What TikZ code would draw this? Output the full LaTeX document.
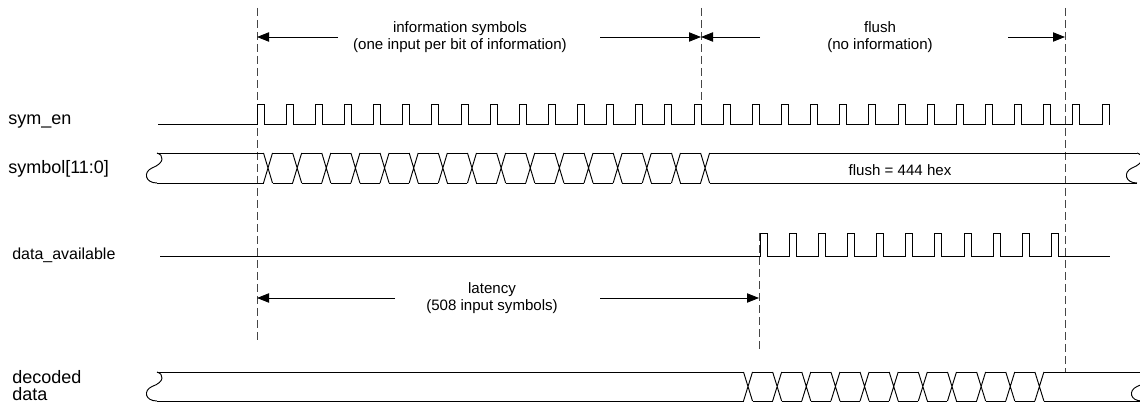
\documentclass[tikz,border=0pt]{standalone}
\usepackage{fontspec}
\setmainfont{Liberation Sans}
\usetikzlibrary{arrows.meta}
\definecolor{GuideGray}{RGB}{70,70,70}

\begin{document}
\begin{tikzpicture}[x=0.75pt,y=-0.75pt,
  wave/.style={line width=0.7pt,black},
  guide/.style={line width=0.6pt,GuideGray,dash pattern=on 6pt off 3pt},
  dimarrow/.style={line width=0.6pt,-{Triangle[length=9pt,width=7pt]}},
  sig/.style={anchor=base west,inner sep=0pt,font=\fontsize{13.5}{14}\selectfont},
  note/.style={align=center,inner sep=0pt,font=\fontsize{11.3}{12.75}\selectfont}]
  \useasboundingbox (0,0) rectangle (1140,406);

  \coordinate (g1top) at (257,8);   \coordinate (g1bot) at (257,343);
  \coordinate (g2top) at (701,8);   \coordinate (g2bot) at (701,104);
  \coordinate (g3top) at (1065,8);  \coordinate (g3bot) at (1065,372);
  \coordinate (g4top) at (759,233); \coordinate (g4bot) at (759,350);
  \draw[guide] (g1top) -- (g1bot);
  \draw[guide] (g2top) -- (g2bot);
  \draw[guide] (g3top) -- (g3bot);
  \draw[guide] (g4top) -- (g4bot);

  \node[sig] (lblSymEn) at (8,125) {sym\_en};
  \node[sig] (lblSymbol) at (8,174) {symbol[11:0]};
  \node[sig,font=\fontsize{12}{13}\selectfont] (lblAvail) at (12,260) {data\_available};
  \node[sig] (lblDecoded) at (12,383) {decoded};
  \node[sig] (lblData) at (12,400) {data};

  \node[note] (infoTxt) at (460,37) {information symbols\\(one input per bit of information)};
  \node[note] (flushTxt) at (880,37) {flush\\(no information)};
  \node[note] (latTxt) at (492,298) {latency\\(508 input symbols)};
  \node[note,anchor=base] (flushVal) at (900,176) {flush = 444 hex};

  \coordinate (infoL) at (338,37);
  \coordinate (infoR) at (600,37);
  \coordinate (flushL) at (760,37);
  \coordinate (flushR) at (1008,37);
  \coordinate (latL) at (395,298);
  \coordinate (latR) at (600,298);
  \draw[dimarrow] (infoL) -- (g1top |- infoL);
  \draw[dimarrow] (infoR) -- (g2top |- infoR);
  \draw[dimarrow] (flushL) -- (g2top |- flushL);
  \draw[dimarrow] (flushR) -- (g3top |- flushR);
  \draw[dimarrow] (latL) -- (g1top |- latL);
  \draw[dimarrow] (latR) -- (g4top |- latR);

  \draw[wave] (158,124) foreach \k in {0,...,29} {
    -- ({257+29.14*\k},124) -- ++(0,-20) -- ++(7,0) -- ++(0,20) } -- (1110,124);

  \draw[wave] (157,153) -- (263.5,153) (157,183) -- (263.5,183);
  \foreach \k in {0,...,15}
    \draw[wave] ({268+29.14*\k-4.5},153) -- ++(9,30) ({268+29.14*\k-4.5},183) -- ++(9,-30);
  \foreach \k in {0,...,14}
    \draw[wave] ({268+29.14*\k+4.5},153) -- ++(20.14,0) ({268+29.14*\k+4.5},183) -- ++(20.14,0);
  \draw[wave] (709.6,153) -- (1137,153) (709.6,183) -- (1137,183);

  \draw[wave] (160,256) foreach \k in {0,...,10} {
    -- ({760+29.14*\k},256) -- ++(0,-23) -- ++(7,0) -- ++(0,23) } -- (1110,256);

  \draw[wave] (157,372) -- (743.5,372) (157,401) -- (743.5,401);
  \foreach \k in {0,...,10}
    \draw[wave] ({748+29.14*\k-4.5},372) -- ++(9,29) ({748+29.14*\k-4.5},401) -- ++(9,-29);
  \foreach \k in {0,...,9}
    \draw[wave] ({748+29.14*\k+4.5},372) -- ++(20.14,0) ({748+29.14*\k+4.5},401) -- ++(20.14,0);
  \draw[wave] (1043.9,372) -- (1142,372) (1043.9,401) -- (1142,401);

  \foreach \x/\yt/\yb in {157/153/183, 1137/153/183, 157/372/401, 1142/372/401}
    \draw[wave] (\x,\yt) .. controls (\x+7,\yt+2) and (\x+8,\yt+10) .. (\x-5,{(\yt+\yb)/2})
      .. controls (\x-14,{(\yt+\yb)/2+4}) and (\x-12,\yb) .. (\x,\yb);
\end{tikzpicture}
\end{document}
